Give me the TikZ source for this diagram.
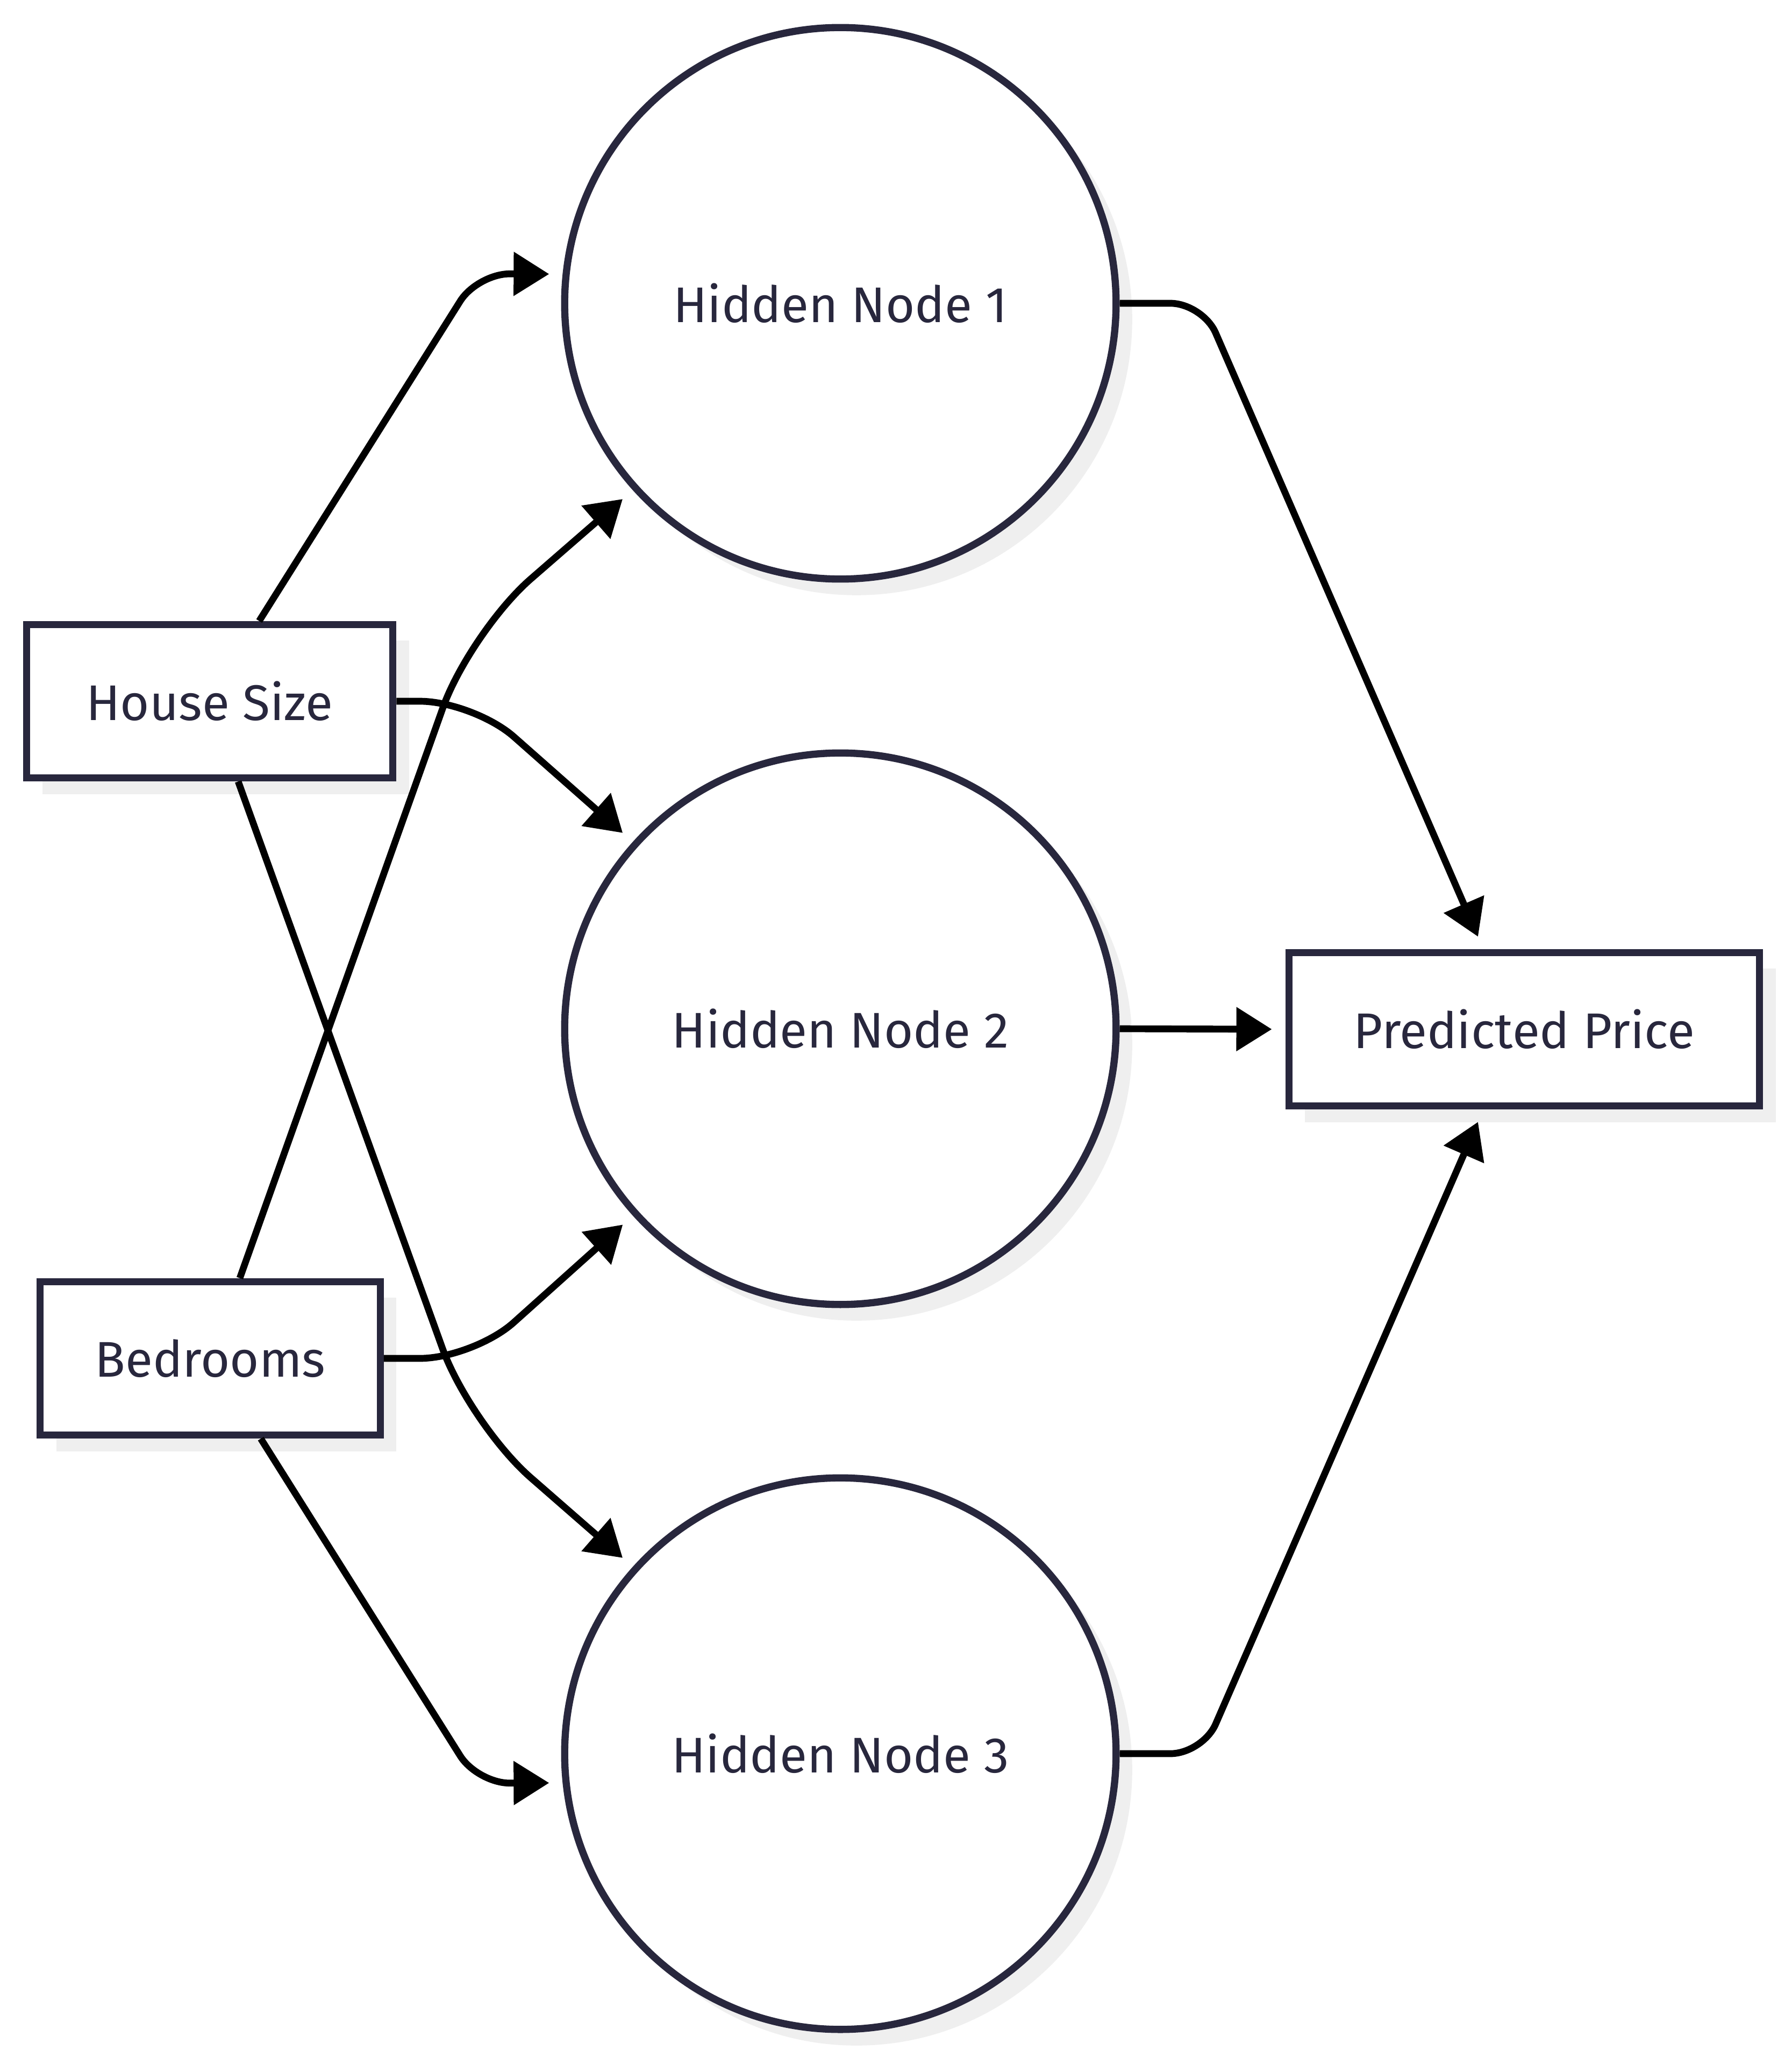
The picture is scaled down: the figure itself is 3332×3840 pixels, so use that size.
\documentclass[tikz,border=0pt]{standalone}
\usepackage{fontspec}
\setmainfont{Fira Sans}
\usetikzlibrary{arrows.meta,shadows}
\definecolor{Encre}{HTML}{28273D}
\definecolor{Ombre}{HTML}{EFEFEF}

\begin{document}
\begin{tikzpicture}[x=0.01cm, y=-0.01cm]

      \tikzstyle{Box}=[rectangle, draw=Encre, fill=white, line width=3.8pt,
        minimum height=2.85cm, text=Encre, font=\fontsize{26.5}{31}\selectfont,
        drop shadow={shadow xshift=0.3cm, shadow yshift=-0.3cm, fill=Ombre, opacity=1}];
      \tikzstyle{Neur}=[circle, draw=Encre, fill=white, line width=3.8pt,
        minimum size=10.25cm, text=Encre, font=\fontsize{26.5}{31}\selectfont,
        drop shadow={shadow xshift=0.3cm, shadow yshift=-0.3cm, fill=Ombre, opacity=1}];
      \tikzstyle{Arr}=[line width=3.6pt, -{Triangle[length=0.66cm, width=0.79cm]},
        shorten >=0.25cm];

      \useasboundingbox (0, 0) rectangle (3332, 3840);

        % inputs
        \node[Box, minimum width=6.81cm](Size) at (390, 1304) {House Size};
        \node[Box, minimum width=6.32cm](Rooms) at (391, 2526) {Bedrooms};

        % hidden layer
        \node[Neur](H1) at (1563, 564) {Hidden Node 1};
        \node[Neur](H2) at (1563, 1913) {Hidden Node 2};
        \node[Neur](H3) at (1563, 3261) {Hidden Node 3};

        % output
        \node[Box, minimum width=8.75cm](Price) at (2835, 1914) {Predicted Price};

        \draw[Arr, rounded corners=0.6cm] ([xshift=0.92cm]Size.north) -- (888, 509) -- (H1.174);
        \draw[Arr, rounded corners=1.0cm] (Size.east) -- (881, 1304) -- (H2.138);
        \draw[Arr, rounded corners=1.5cm] ([xshift=0.53cm]Size.south) -- (874, 2649) -- (H3.138);

        \draw[Arr, rounded corners=1.5cm] ([xshift=0.55cm]Rooms.north) -- (874, 1175) -- (H1.222);
        \draw[Arr, rounded corners=1.0cm] (Rooms.east) -- (881, 2526) -- (H2.222);
        \draw[Arr, rounded corners=0.6cm] ([xshift=0.94cm]Rooms.south) -- (888, 3316) -- (H3.186);

        \draw[Arr, rounded corners=0.6cm] (H1.east) -- (2237, 564) -- (Price.117);
        \draw[Arr] (H2.east) -- (Price.west);
        \draw[Arr, rounded corners=0.6cm] (H3.east) -- (2237, 3261) -- (Price.243);
        %node [above, midway, sloped] {\large output};

    \end{tikzpicture}
\end{document}
